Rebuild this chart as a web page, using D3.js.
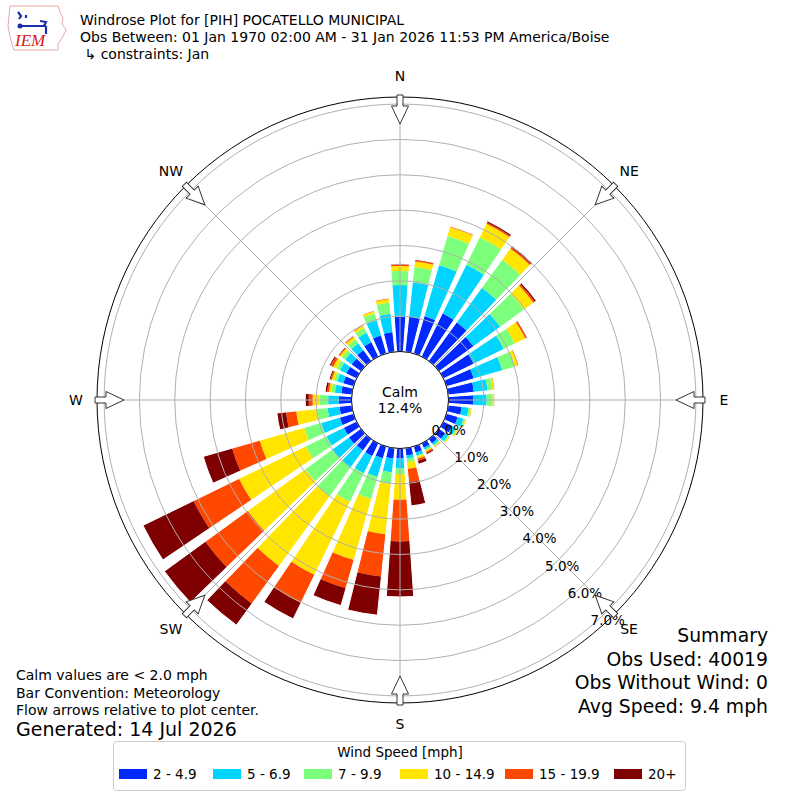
<!DOCTYPE html>
<html>
<head>
<meta charset="utf-8">
<script src="https://cdn.jsdelivr.net/npm/d3@7"></script>
<style>
  body { margin: 0; background: #fff; }
  svg { display: block; font-family: "DejaVu Sans", sans-serif; }
</style>
</head>
<body>
<div id="chart"></div>
<script>
// wind direction bins (degrees, 10 deg wide)
const directions = [0, 10, 20, 30, 40, 50, 60, 70, 80, 90, 100, 110, 120, 130, 140, 150, 160, 170,
  180, 190, 200, 210, 220, 230, 240, 250, 260, 270, 280, 290, 300, 310, 320, 330, 340, 350]

const speedBins = ["2 - 4.9", "5 - 6.9", "7 - 9.9", "10 - 14.9", "15 - 19.9", "20+"]
const binColors = ["#0028ff", "#00d4ff", "#7cff7a", "#ffe500", "#ff4800", "#7f0000"]

// percent of obs per direction for each speed bin
const speed2to5 = [0.98, 1.00, 1.10, 1.36, 1.35, 1.20, 0.95, 0.80, 0.73, 0.70, 0.38, 0.33, 0.28, 0.22, 0.15, 0.14, 0.18, 0.21,
  0.28, 0.30, 0.35, 0.40, 0.40, 0.42, 0.40, 0.40, 0.35, 0.36, 0.30, 0.30, 0.32, 0.33, 0.38, 0.45, 0.53, 0.56]
const speed5to7 = [0.90, 0.98, 1.50, 1.53, 1.21, 0.94, 0.95, 0.84, 0.39, 0.38, 0.20, 0.17, 0.12, 0.10, 0.07, 0.06, 0.09, 0.09,
  0.28, 0.39, 0.55, 0.54, 0.59, 0.58, 0.55, 0.55, 0.34, 0.30, 0.18, 0.18, 0.20, 0.22, 0.24, 0.30, 0.45, 0.52]
const speed7to10 = [0.40, 0.43, 0.86, 0.87, 0.98, 0.83, 0.35, 0.38, 0.14, 0.17, 0.06, 0.05, 0.05, 0.04, 0.03, 0.03, 0.03, 0.10,
  0.16, 0.33, 0.65, 0.90, 1.01, 0.95, 0.65, 0.50, 0.32, 0.24, 0.10, 0.09, 0.12, 0.11, 0.14, 0.15, 0.20, 0.32]
const speed10to15 = [0.14, 0.16, 0.26, 0.42, 0.39, 0.33, 0.33, 0.08, 0.05, 0.04, 0.03, 0.03, 0.03, 0.03, 0.03, 0.04, 0.06, 0.19,
  0.73, 1.43, 1.79, 2.30, 2.44, 2.01, 2.10, 1.31, 0.57, 0.20, 0.07, 0.07, 0.10, 0.08, 0.08, 0.07, 0.07, 0.10]
const speed15to20 = [0.04, 0.04, 0.02, 0.04, 0.04, 0.05, 0.04, 0.02, 0.01, 0.01, 0.01, 0.01, 0.01, 0.01, 0.01, 0.04, 0.06, 0.38,
  1.18, 1.20, 0.83, 0.88, 1.31, 1.48, 1.43, 0.81, 0.29, 0.11, 0.05, 0.04, 0.08, 0.03, 0.03, 0.02, 0.01, 0.02]
const speed20plus = [0.02, 0.02, 0.01, 0.05, 0.05, 0.05, 0.02, 0.01, 0.01, 0.01, 0.00, 0.00, 0.00, 0.00, 0.01, 0.04, 0.10, 0.67,
  1.57, 1.10, 0.51, 0.50, 0.75, 1.43, 1.59, 0.85, 0.26, 0.10, 0.06, 0.04, 0.04, 0.02, 0.01, 0.01, 0.01, 0.01]

const radialTicks = [0, 1, 2, 3, 4, 5, 6, 7]
const compassLabels = ["N", "NE", "E", "SE", "S", "SW", "W", "NW"]
const compassAngles = [0, 45, 90, 135, 180, 225, 270, 315]
const calmPercent = 12.4

const titleLines = [
  "Windrose Plot for [PIH] POCATELLO MUNICIPAL",
  "Obs Between: 01 Jan 1970 02:00 AM - 31 Jan 2026 11:53 PM America/Boise",
  " \u21b3 constraints: Jan"
]
const footnotes = ["Calm values are < 2.0 mph", "Bar Convention: Meteorology", "Flow arrows relative to plot center."]
const generatedText = "Generated: 14 Jul 2026"
const summaryLines = ["Summary", "Obs Used: 40019", "Obs Without Wind: 0", "Avg Speed: 9.4 mph"]
const legendTitle = "Wind Speed [mph]"

const width = 800
const height = 800
const cx = 400
const cy = 400
const calmRadius = 48.5
const outerRadius = 303
const rMax = 7.2

const svg = d3.select("#chart")
  .append("svg")
  .attr("width", width)
  .attr("height", height)
  .attr("viewBox", [0, 0, width, height])

svg.append("rect").attr("width", width).attr("height", height).attr("fill", "#fff")

const r = d3.scaleLinear().domain([0, rMax]).range([calmRadius, outerRadius])
const rad = deg => deg * Math.PI / 180

const g = svg.append("g").attr("transform", `translate(${cx},${cy})`)

// stacked bars
const keys = ["b0", "b1", "b2", "b3", "b4", "b5"]
const series = [speed2to5, speed5to7, speed7to10, speed10to15, speed15to20, speed20plus]
const rows = directions.map((dir, i) => {
  const row = { dir }
  keys.forEach((k, j) => { row[k] = series[j][i] })
  return row
})
const stacked = d3.stack().keys(keys)(rows)

const halfWidth = 4
const barArc = d3.arc()
  .innerRadius(d => r(d[0]))
  .outerRadius(d => r(d[1]))
  .startAngle(d => rad(d.data.dir - halfWidth))
  .endAngle(d => rad(d.data.dir + halfWidth))

const layers = g.selectAll(".layer")
  .data(stacked)
  .enter()
  .append("g")
  .attr("class", "layer")
  .attr("fill", (d, i) => binColors[i])

layers.selectAll("path")
  .data(d => d)
  .enter()
  .append("path")
  .attr("d", barArc)

// white outline round each full bar
const totals = stacked[stacked.length - 1]
g.append("g").selectAll("path")
  .data(totals)
  .enter()
  .append("path")
  .attr("d", d3.arc()
    .innerRadius(calmRadius)
    .outerRadius(d => r(d[1]))
    .startAngle(d => rad(d.data.dir - halfWidth))
    .endAngle(d => rad(d.data.dir + halfWidth)))
  .attr("fill", "none")
  .attr("stroke", "#fff")
  .attr("stroke-width", 1)

// grid rings
g.append("g").selectAll("circle")
  .data(radialTicks.filter(t => t > 0))
  .enter()
  .append("circle")
  .attr("r", d => r(d))
  .attr("fill", "none")
  .attr("stroke", "#b0b0b0")
  .attr("stroke-width", 1)

// radial grid lines
g.append("g").selectAll("line")
  .data(compassAngles)
  .enter()
  .append("line")
  .attr("x1", d => calmRadius * Math.sin(rad(d)))
  .attr("y1", d => -calmRadius * Math.cos(rad(d)))
  .attr("x2", d => outerRadius * Math.sin(rad(d)))
  .attr("y2", d => -outerRadius * Math.cos(rad(d)))
  .attr("stroke", "#b0b0b0")
  .attr("stroke-width", 1)

// outer frame
g.append("circle")
  .attr("r", outerRadius)
  .attr("fill", "none")
  .attr("stroke", "#000")
  .attr("stroke-width", 1)

// calm circle
g.append("circle")
  .attr("r", calmRadius)
  .attr("fill", "#fff")
  .attr("stroke", "#000")
  .attr("stroke-width", 1)

g.append("text")
  .attr("y", -8)
  .attr("text-anchor", "middle")
  .attr("dominant-baseline", "central")
  .attr("font-size", "14px")
  .text("Calm")

g.append("text")
  .attr("y", 8)
  .attr("text-anchor", "middle")
  .attr("dominant-baseline", "central")
  .attr("font-size", "14px")
  .text(`${calmPercent.toFixed(1)}%`)

// radial tick labels
const labelBearing = 140
g.append("g").selectAll("text")
  .data(radialTicks)
  .enter()
  .append("text")
  .attr("x", d => r(d) * Math.sin(rad(labelBearing)) + 17.5)
  .attr("y", d => -r(d) * Math.cos(rad(labelBearing)) - 7)
  .attr("text-anchor", "middle")
  .attr("dominant-baseline", "central")
  .attr("font-size", "13.5px")
  .text(d => `${d.toFixed(1)}%`)

// flow arrows at the compass points
const arrowPath = "M0,-276 L8.5,-294 L3,-294 L3,-305 L-3,-305 L-3,-294 L-8.5,-294 Z"
g.append("g").selectAll("path")
  .data(compassAngles)
  .enter()
  .append("path")
  .attr("d", arrowPath)
  .attr("transform", d => `rotate(${d})`)
  .attr("fill", "#fff")
  .attr("stroke", "#333")
  .attr("stroke-width", 1)

// compass labels
g.append("g").selectAll("text")
  .data(compassLabels)
  .enter()
  .append("text")
  .attr("x", (d, i) => 324 * Math.sin(rad(compassAngles[i])))
  .attr("y", (d, i) => -324 * Math.cos(rad(compassAngles[i])))
  .attr("text-anchor", "middle")
  .attr("dominant-baseline", "central")
  .attr("font-size", "14px")
  .text(d => d)

// title
svg.append("g").selectAll("text")
  .data(titleLines)
  .enter()
  .append("text")
  .attr("x", 80)
  .attr("y", (d, i) => 25 + i * 17)
  .attr("font-size", "14px")
  .style("white-space", "pre")
  .text(d => d)

// IEM logo
const logo = svg.append("g").attr("transform", "translate(6,4)")
logo.append("path")
  .attr("d", "M4,2 L52,2 L54,8 L57,14 L56,20 L60,26 L56,34 L52,40 L52,46 L8,46 L6,40 L4,32 L2,22 L3,12 Z")
  .attr("fill", "none")
  .attr("stroke", "#e9a8a8")
  .attr("stroke-width", 1)
logo.append("path")
  .attr("d", "M14,22 L40,22 M34,17 L40,18 L38,22 M40,22 L40,30 M12,8 L15,12 L13,15 M20,11 L20,14")
  .attr("fill", "none")
  .attr("stroke", "#1c2ea8")
  .attr("stroke-width", 2.2)
logo.append("circle")
  .attr("cx", 14)
  .attr("cy", 22)
  .attr("r", 2.5)
  .attr("fill", "#1c2ea8")
logo.append("text")
  .attr("x", 9)
  .attr("y", 42)
  .attr("font-family", "'Liberation Serif', 'DejaVu Serif', serif")
  .attr("font-style", "italic")
  .attr("font-size", "17px")
  .attr("fill", "#d42020")
  .text("IEM")

// footnotes
svg.append("g").selectAll("text")
  .data(footnotes)
  .enter()
  .append("text")
  .attr("x", 16)
  .attr("y", (d, i) => 680 + i * 17.5)
  .attr("font-size", "14px")
  .text(d => d)

svg.append("text")
  .attr("x", 16)
  .attr("y", 736)
  .attr("font-size", "19px")
  .text(generatedText)

// summary
svg.append("g").selectAll("text")
  .data(summaryLines)
  .enter()
  .append("text")
  .attr("x", 768)
  .attr("y", (d, i) => 642 + i * 23.5)
  .attr("text-anchor", "end")
  .attr("font-size", "18.8px")
  .text(d => d)

// legend
const legend = svg.append("g")
legend.append("rect")
  .attr("x", 113.5)
  .attr("y", 741.5)
  .attr("width", 572)
  .attr("height", 49)
  .attr("rx", 3)
  .attr("fill", "#fff")
  .attr("stroke", "#cccccc")

legend.append("text")
  .attr("x", 400)
  .attr("y", 757)
  .attr("text-anchor", "middle")
  .attr("font-size", "13.5px")
  .text(legendTitle)

const patchX = [119, 213, 304, 400, 505, 614]
const items = legend.selectAll(".item")
  .data(speedBins)
  .enter()
  .append("g")
  .attr("class", "item")
  .attr("transform", (d, i) => `translate(${patchX[i]},769)`)

items.append("rect")
  .attr("width", 28)
  .attr("height", 10)
  .attr("fill", (d, i) => binColors[i])

items.append("text")
  .attr("x", 34)
  .attr("y", 10)
  .attr("font-size", "13.5px")
  .text(d => d)
</script>
</body>
</html>
